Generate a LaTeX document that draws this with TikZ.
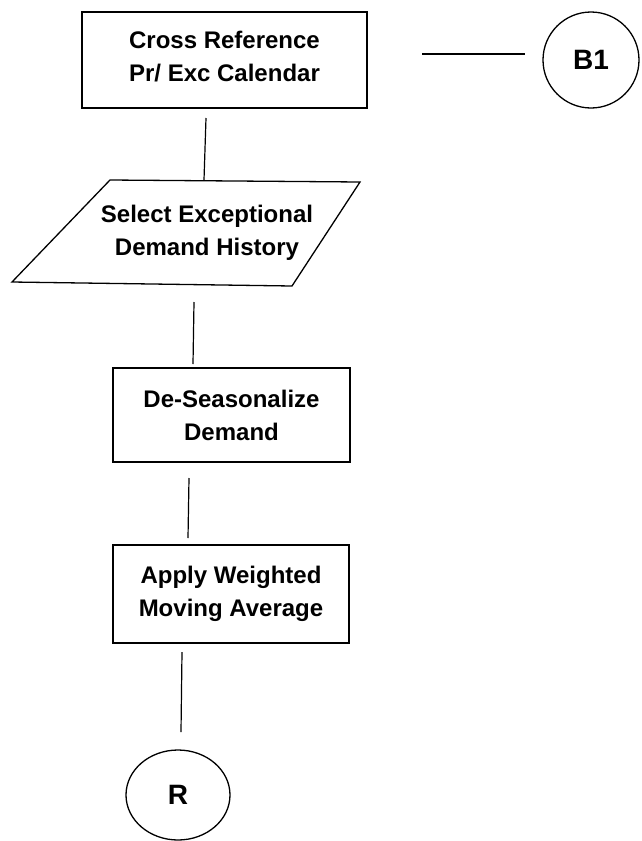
\documentclass[tikz,border=0pt]{standalone}
\usepackage{fontspec}
\setmainfont{Liberation Sans}
\usetikzlibrary{shapes.geometric}
\begin{document}
\begin{tikzpicture}[x=1pt,y=-1pt,
  line width=1.3pt,
  lbl/.style={font=\bfseries\fontsize{24}{33}\selectfont, align=center},
  tag/.style={font=\bfseries\fontsize{28}{33}\selectfont, inner sep=0pt},
  procbox/.style={draw, minimum width=#1, inner sep=0pt},
  conn/.style={draw, line width=1.2pt}]
  \useasboundingbox (0,0) rectangle (642,841);

  % process boxes
  \node[procbox=285pt, minimum height=96pt, lbl] (xref) at (224.5,60) {};
  \node[lbl] (xreftext) at (224.5,57) {Cross Reference\\Pr/ Exc Calendar};
  \node[procbox=237pt, minimum height=94pt, lbl] (deseason) at (231.5,415) {De-Seasonalize\\Demand};
  \node[procbox=236pt, minimum height=98pt, lbl] (wma) at (231,594) {Apply Weighted\\Moving Average};

  % input/output parallelogram
  \coordinate (p1) at (110,180);
  \coordinate (p2) at (360,182);
  \coordinate (p3) at (292,286);
  \coordinate (p4) at (12,282);
  \draw (p1) -- (p2) -- (p3) -- (p4) -- cycle;
  \node[lbl] (select) at (207,233) {Select Exceptional\\Demand History};

  % off-page and return connectors
  \node[draw, circle, minimum size=96pt, tag] (b1) at (591,60) {B1};
  \node[draw, ellipse, minimum width=104pt, minimum height=90pt, tag] (r) at (178,795) {R};

  \coordinate (l0a) at (422,54);
  \coordinate (l0b) at (525,54);
  \draw[conn] (l0a) -- (l0b);

  \coordinate (l1a) at (206,118);
  \coordinate (l1b) at (204,180);
  \draw[conn] (l1a) -- (l1b);

  \coordinate (l2a) at (194,302);
  \coordinate (l2b) at (193,364);
  \draw[conn] (l2a) -- (l2b);

  \coordinate (l3a) at (189,478);
  \coordinate (l3b) at (188,538);
  \draw[conn] (l3a) -- (l3b);

  \coordinate (l4a) at (182,652);
  \coordinate (l4b) at (181,732);
  \draw[conn] (l4a) -- (l4b);
\end{tikzpicture}
\end{document}
